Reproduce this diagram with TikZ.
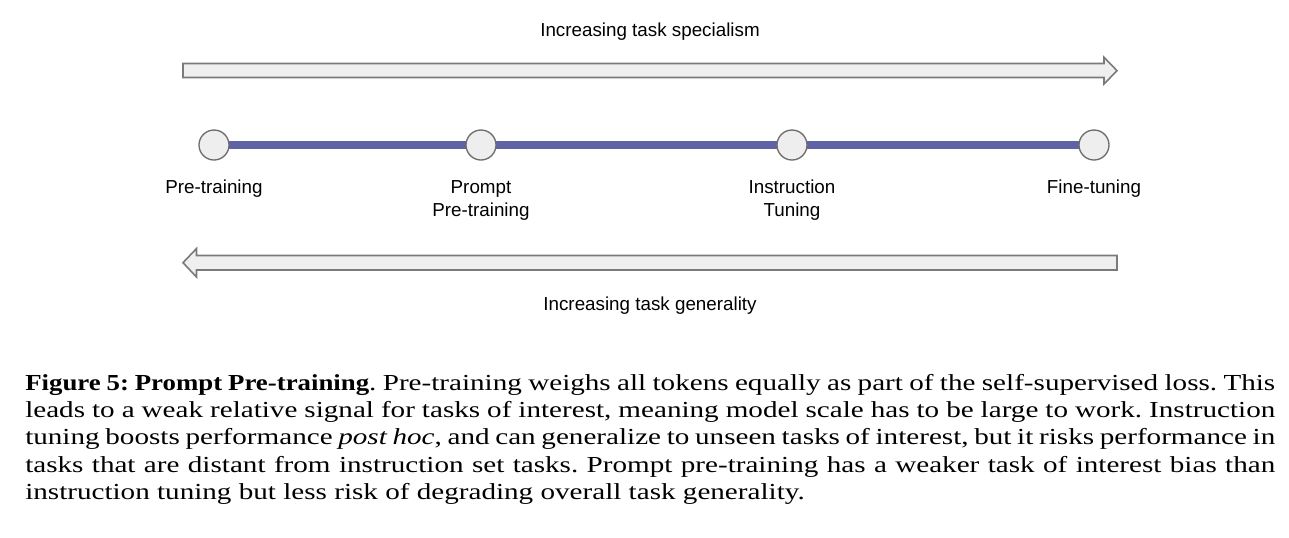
\documentclass[tikz,border=0pt]{standalone}
\usepackage{fontspec}
\setmainfont{Liberation Serif}[FakeStretch=1.27, BoldFeatures={FakeStretch=1.17}]
\newfontfamily\diagfont{Liberation Sans}
\usetikzlibrary{backgrounds}
\definecolor{arrowfill}{HTML}{EFEFEF}
\definecolor{arrowdraw}{HTML}{7A7A7A}
\definecolor{circfill}{HTML}{EEEEEE}
\definecolor{circdraw}{HTML}{6E6E6E}
\definecolor{lineblue}{HTML}{5F63A6}
\newlength\pxu
\setlength\pxu{0.75pt}
\tikzset{
  bigarrow/.style={fill=arrowfill, draw=arrowdraw, line width=1.2pt, line join=miter},
  stage/.style={circle, fill=circfill, draw=circdraw, line width=1pt, minimum size=22.5pt, inner sep=0pt},
  stagelabel/.style={font=\diagfont\fontsize{14.1}{17.5}\selectfont, align=center, anchor=base},
  axislabel/.style={font=\diagfont\fontsize{14.1}{17.5}\selectfont, anchor=base},
  captiontext/.style={anchor=base west, inner sep=0pt}
}
\begin{document}
\begin{tikzpicture}[x=0.75pt, y=-0.75pt]
\useasboundingbox (0,0) rectangle (1289,537);
% axis labels
\node[axislabel] (spec) at (650,36) {Increasing task specialism};
\node[axislabel] (gen) at (650,310) {Increasing task generality};
% top arrow
\draw[bigarrow] (183,63.5) -- (1104,63.5) -- (1104,57.3) -- (1117,70.7) -- (1104,84) -- (1104,77.5) -- (183,77.5) -- cycle;
% bottom arrow
\draw[bigarrow] (1117,255.5) -- (196.5,255.5) -- (196.5,248.5) -- (183,262.7) -- (196.5,277) -- (196.5,270) -- (1117,270) -- cycle;
% stages
\node[stage] (s1) at (214,145) {};
\node[stage] (s2) at (481,145) {};
\node[stage] (s3) at (792,145) {};
\node[stage] (s4) at (1094,145) {};
\begin{scope}[on background layer]
\draw[lineblue, line width=5.6pt] (s1.center) -- (s2.center) -- (s3.center) -- (s4.center);
\end{scope}
\node[stagelabel] (l1) at (214,193.3) {Pre-training};
\node[stagelabel] (l2) at (481,216.6) {Prompt\\Pre-training};
\node[stagelabel] (l3) at (792,216.6) {Instruction\\Tuning};
\node[stagelabel] (l4) at (1094,193.3) {Fine-tuning};
% caption
\node[captiontext] (cap) at (25,390) {\parbox[t]{1260\pxu}{\fontsize{17.2}{20.5}\selectfont\frenchspacing
\makebox[1250\pxu][s]{\textbf{Figure 5: Prompt Pre-training}. Pre-training weighs all tokens equally as part of the self-supervised loss. This}\\
\makebox[1250\pxu][s]{leads to a weak relative signal for tasks of interest, meaning model scale has to be large to work. Instruction}\\
\makebox[1250\pxu][s]{tuning boosts performance \textit{post hoc}, and can generalize to unseen tasks of interest, but it risks performance in}\\
\makebox[1250\pxu][s]{tasks that are distant from instruction set tasks. Prompt pre-training has a weaker task of interest bias than}\\
instruction tuning but less risk of degrading overall task generality.}};
\end{tikzpicture}
\end{document}
